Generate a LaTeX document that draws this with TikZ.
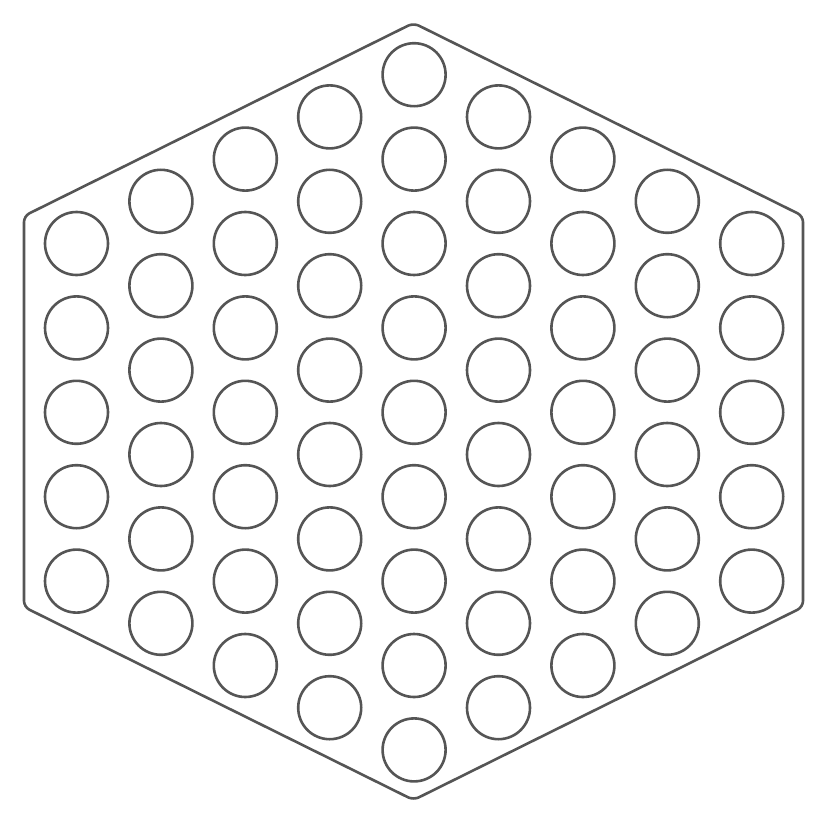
\documentclass[tikz,border=0pt]{standalone}
\definecolor{linegray}{HTML}{555555}
\begin{document}
\begin{tikzpicture}[x=1pt,y=-1pt,
  hole/.style={circle,draw=linegray,line width=2.6pt,minimum size=63pt,inner sep=0pt},
  frame/.style={draw=linegray,line width=2.6pt,rounded corners=6pt}]
\useasboundingbox (0,0) rectangle (824,824);
\draw[frame] (413.5,23) -- (803,216) -- (803,607) -- (413.5,800) -- (24,607) -- (24,216) -- cycle;
\foreach \i in {0,...,8}{
  \pgfmathtruncatemacro{\n}{9-abs(\i-4)}
  \pgfmathsetmacro{\xx}{76.5+84.4*\i}
  \foreach \j in {1,...,\n}{
    \pgfmathsetmacro{\yy}{412.3+(\j-1-(\n-1)/2)*84.4}
    \node[hole] (c-\i-\j) at (\xx,\yy) {};
  }
}
\end{tikzpicture}
\end{document}
